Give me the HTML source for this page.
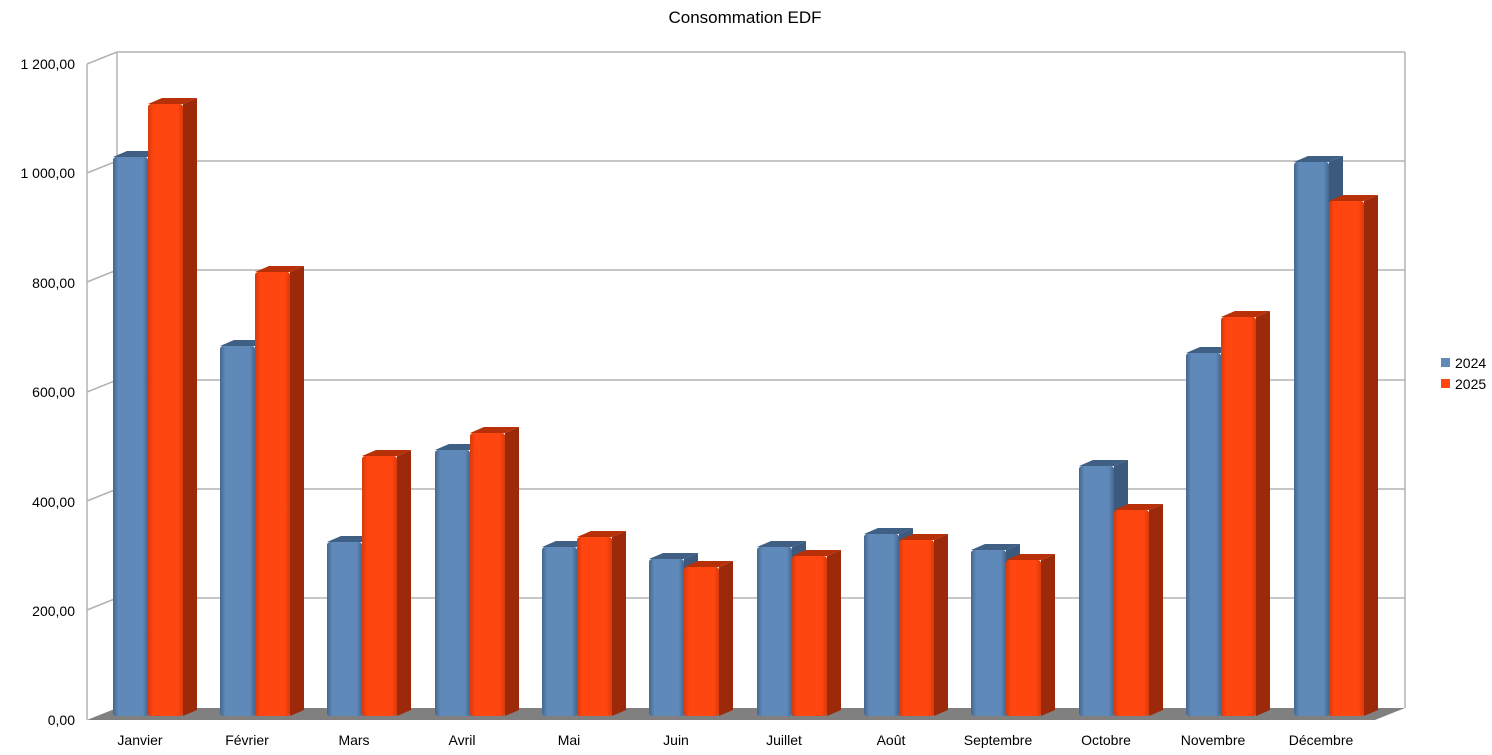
<!DOCTYPE html>
<html><head><meta charset="utf-8"><style>
body{margin:0;background:#fff}
svg{display:block;font-family:"Liberation Sans",sans-serif}
</style></head><body>
<svg width="1492" height="755" xmlns="http://www.w3.org/2000/svg">
<defs>
<linearGradient id="gb" x1="0" x2="1"><stop offset="0" stop-color="#45668f"/><stop offset="0.15" stop-color="#5f89b8"/><stop offset="0.85" stop-color="#5f89b8"/><stop offset="1" stop-color="#45668f"/></linearGradient>
<linearGradient id="go" x1="0" x2="1"><stop offset="0" stop-color="#d83a0a"/><stop offset="0.15" stop-color="#ff4510"/><stop offset="0.85" stop-color="#ff4510"/><stop offset="1" stop-color="#d83a0a"/></linearGradient>
</defs>
<text x="745" y="23" font-size="17" text-anchor="middle" fill="#000">Consommation EDF</text>
<g stroke="#b3b3b3" stroke-width="1.5" fill="none">
<line x1="87" y1="64" x2="87" y2="720"/>
<line x1="117" y1="52" x2="117" y2="708"/>
<line x1="1405" y1="52" x2="1405" y2="708"/>
<line x1="87" y1="64" x2="117" y2="52"/>
<line x1="117" y1="52" x2="1405" y2="52"/>
<line x1="87" y1="173" x2="117" y2="161"/><line x1="117" y1="161" x2="1405" y2="161"/>
<line x1="87" y1="282" x2="117" y2="270"/><line x1="117" y1="270" x2="1405" y2="270"/>
<line x1="87" y1="392" x2="117" y2="380"/><line x1="117" y1="380" x2="1405" y2="380"/>
<line x1="87" y1="501" x2="117" y2="489"/><line x1="117" y1="489" x2="1405" y2="489"/>
<line x1="87" y1="610" x2="117" y2="598"/><line x1="117" y1="598" x2="1405" y2="598"/>
</g>
<polygon points="87,720 117,708 1405,708 1375,720" fill="#808080"/>
<g font-size="14" fill="#000" text-anchor="end">
<text x="75" y="69">1 200,00</text>
<text x="75" y="178">1 000,00</text>
<text x="75" y="288">800,00</text>
<text x="75" y="397">600,00</text>
<text x="75" y="507">400,00</text>
<text x="75" y="616">200,00</text>
<text x="75" y="725">0,00</text>
</g>
<g id="bars"></g>
<g font-size="14" fill="#000" text-anchor="middle" id="xl"></g>
<rect x="1441" y="358" width="9" height="9" fill="#5f89b8"/>
<rect x="1441" y="379" width="9" height="9" fill="#ff4510"/>
<text x="1455" y="368" font-size="14">2024</text>
<text x="1455" y="389" font-size="14">2025</text>
<script>
var names=["Janvier","Février","Mars","Avril","Mai","Juin","Juillet","Août","Septembre","Octobre","Novembre","Décembre"];
var b=[157,346,542,450,547,559,547,534,550,466,353,162];
var o=[104,272,456,433,537,567,556,540,560,510,317,201];
var xs=[113,220,327,435,542,649,757,864,971,1079,1186,1294];
var g=document.getElementById('bars'),xl=document.getElementById('xl');
var ns="http://www.w3.org/2000/svg";
function el(t,a,p){var e=document.createElementNS(ns,t);for(var k in a)e.setAttribute(k,a[k]);p.appendChild(e);return e;}
function bar(x,top,front,side,topc){
 var w=35,d=14,u=6,bot=716;
 el('polygon',{points:(x+w)+','+top+' '+(x+w+d)+','+(top-u)+' '+(x+w+d)+','+(bot-u)+' '+(x+w)+','+bot,fill:side},g);
 el('polygon',{points:x+','+top+' '+(x+d)+','+(top-u)+' '+(x+w+d)+','+(top-u)+' '+(x+w)+','+top,fill:topc},g);
 el('rect',{x:x,y:top,width:w,height:bot-top,fill:front,rx:3},g);
}
for(var i=0;i<12;i++){
 bar(xs[i],b[i],'url(#gb)','#3b5a7e','#3f5f85');
 bar(xs[i]+35,o[i],'url(#go)','#9c2a0a','#b83008');
 var t=el('text',{x:xs[i]+27,y:745},xl);t.textContent=names[i];
}
</script>
</svg>
</body></html>
